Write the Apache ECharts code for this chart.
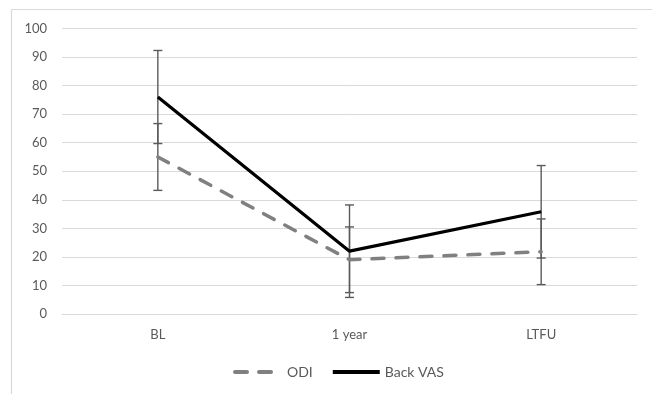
<!DOCTYPE html>
<html>
<head>
<meta charset="utf-8">
<script src="https://cdn.jsdelivr.net/npm/echarts@6/dist/echarts.min.js"></script>
<style>html,body{margin:0;padding:0;background:#fff}#c{width:652px;height:394px}</style>
</head>
<body>
<div id="c"></div>
<script>
const categories = ['BL', '1 year', 'LTFU'];
const odiMean = [55, 19, 21.8];
const odiErr = [11.7, 11.5, 11.5];
const vasMean = [76, 22, 35.8];
const vasErr = [16.3, 16.2, 16.2];
const yTicks = { min: 0, max: 100, interval: 10 };

const chart = echarts.init(document.getElementById('c'));
const font = 'Lato, "Open Sans", sans-serif';

function errData(mean, err) {
  return mean.map((m, i) => [i, m - err[i], m + err[i]]);
}
function renderErr(params, api) {
  const x = api.value(0);
  const lo = api.coord([x, api.value(1)]);
  const hi = api.coord([x, api.value(2)]);
  const cap = 4.5;
  const style = { stroke: '#5a5a5a', lineWidth: 1.4, fill: null };
  return {
    type: 'group',
    children: [
      { type: 'line', shape: { x1: lo[0], y1: lo[1], x2: hi[0], y2: hi[1] }, style },
      { type: 'line', shape: { x1: lo[0] - cap, y1: lo[1], x2: lo[0] + cap, y2: lo[1] }, style },
      { type: 'line', shape: { x1: hi[0] - cap, y1: hi[1], x2: hi[0] + cap, y2: hi[1] }, style }
    ]
  };
}

chart.setOption({
  animation: false,
  backgroundColor: '#fff',
  textStyle: { fontFamily: font },
  graphic: [{
    type: 'polyline',
    shape: { points: [[11.5, 394], [11.5, 9.5], [652, 9.5]] },
    style: { stroke: '#d9d9d9', lineWidth: 1.2, fill: null }
  }],
  grid: { left: 62, right: 15, top: 28.5, bottom: 80 },
  legend: {
    data: ['ODI', 'Back VAS'],
    bottom: 10,
    left: 228,
    itemWidth: 47,
    itemHeight: 10,
    itemGap: 18,
    itemStyle: { opacity: 0 },
    lineStyle: { width: 4 },
    textStyle: { color: '#595959', fontSize: 14, fontFamily: font }
  },
  xAxis: {
    type: 'category',
    data: categories,
    boundaryGap: true,
    axisLine: { show: true, lineStyle: { color: '#d9d9d9', width: 1 } },
    axisTick: { show: false },
    axisLabel: { color: '#595959', fontSize: 13, margin: 14, fontFamily: font }
  },
  yAxis: {
    type: 'value',
    min: yTicks.min, max: yTicks.max, interval: yTicks.interval,
    axisLine: { show: false },
    axisTick: { show: false },
    splitLine: { lineStyle: { color: '#d9d9d9', width: 1 } },
    axisLabel: { color: '#595959', fontSize: 13, margin: 15, fontFamily: font }
  },
  series: [
    { type: 'custom', name: 'odiErr', renderItem: renderErr, data: errData(odiMean, odiErr), z: 1, silent: true },
    { type: 'custom', name: 'vasErr', renderItem: renderErr, data: errData(vasMean, vasErr), z: 1, silent: true },
    {
      type: 'line', name: 'ODI', data: odiMean, symbol: 'none', z: 3,
      lineStyle: { color: '#808080', width: 3.5, type: [12, 12], cap: 'round' },
      itemStyle: { color: '#808080' }
    },
    {
      type: 'line', name: 'Back VAS', data: vasMean, symbol: 'none', z: 4,
      lineStyle: { color: '#000', width: 3.2 },
      itemStyle: { color: '#000' }
    }
  ]
});
</script>
</body>
</html>
